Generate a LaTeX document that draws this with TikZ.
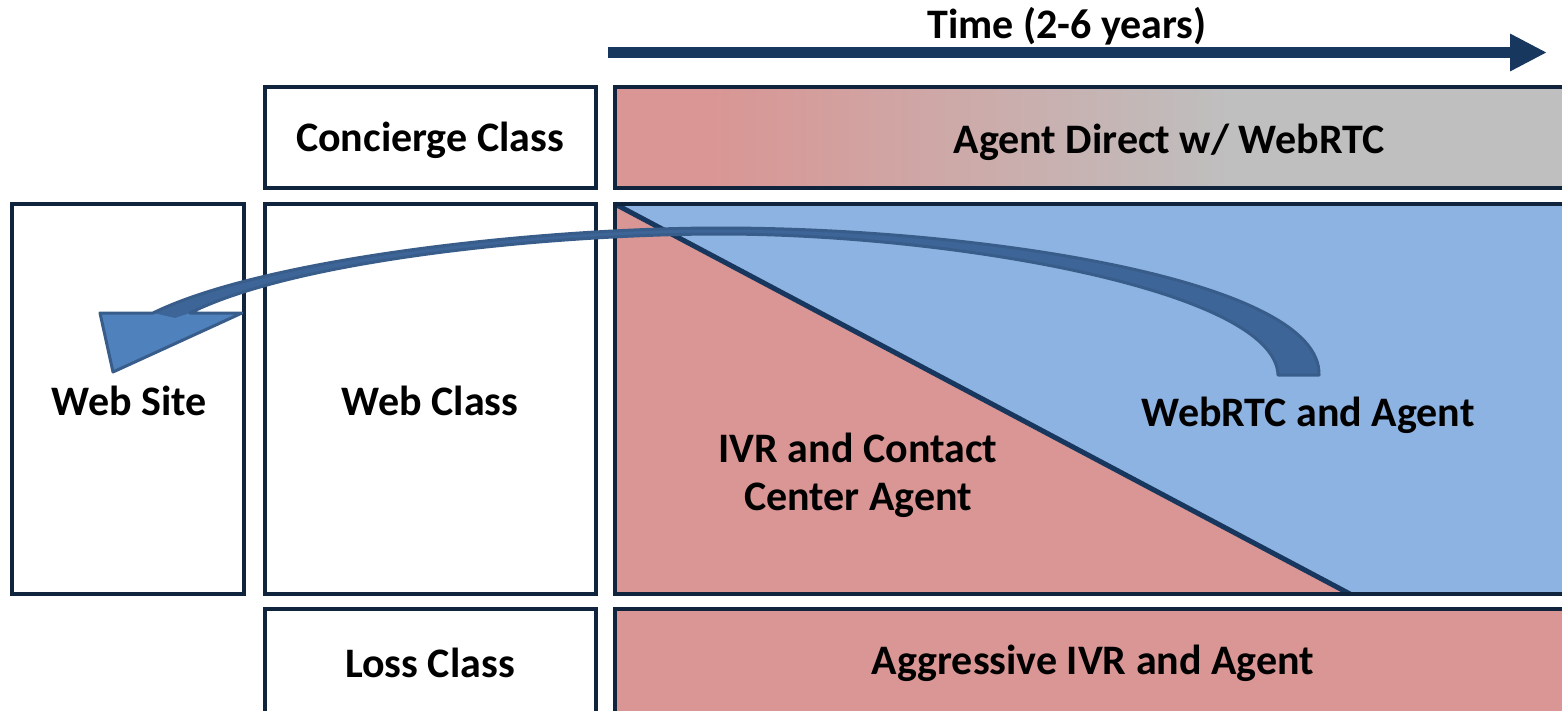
\documentclass[tikz,border=0pt]{standalone}
\usepackage{fontspec}
\setmainfont{Carlito}
\usetikzlibrary{positioning, arrows.meta}
\definecolor{boxnavy}{HTML}{10243E}
\definecolor{axisnavy}{HTML}{17375E}
\definecolor{salmon}{HTML}{D99694}
\definecolor{skyblue}{HTML}{8DB3E2}
\definecolor{greybar}{HTML}{BFBFBF}
\definecolor{curvefill}{HTML}{4F81BD}
\definecolor{curvedark}{HTML}{3D6598}
\definecolor{curveline}{HTML}{385D8A}
\pgfdeclarehorizontalshading{agentshade}{100bp}{color(0bp)=(salmon); color(30bp)=(salmon); color(57bp)=(greybar); color(100bp)=(greybar)}

\begin{document}
\begin{tikzpicture}[x=1pt,y=-1pt,
    classbox/.style={draw=boxnavy, line width=4.5pt, fill=white, inner sep=0pt},
    lbl/.style={font=\bfseries\fontsize{42}{48}\selectfont, align=center}]
    \clip (0,0) rectangle (1562,710);

    % Time axis
    \coordinate (t0) at (608,52.5);
    \coordinate (t1) at (1547,52.5);
    \draw[axisnavy, line width=11pt, -{Triangle[width=35pt,length=37pt]}] (t0) -- (t1);
    \node[lbl] (time) at (1067,26) {Time (2-6 years)};

    % Class boxes
    \node[classbox, minimum width=331, minimum height=101] (concierge) at (430.5,137.5) {};
    \node[classbox, minimum width=232, minimum height=390] (site) at (128,399) {};
    \node[classbox, minimum width=331, minimum height=390] (webclass) at (430.5,399) {};
    \node[classbox, minimum width=331, minimum height=111] (loss) at (430.5,664.5) {};
    \node[lbl] at (430,140) {Concierge Class};
    \node[lbl] at (129,401) {Web Site};
    \node[lbl] at (430,401) {Web Class};
    \node[lbl] at (430,663) {Loss Class};

    % Concierge bar
    \shadedraw[shading=agentshade, draw=boxnavy, line width=4.5pt] (615,87) rectangle (1575,188);
    \node[lbl] (direct) at (1169,142) {Agent Direct w/ WebRTC};

    % Web bar
    \fill[skyblue] (615,204) rectangle (1575,594);
    \fill[salmon] (615,204) -- (1350,594) -- (615,594) -- cycle;
    \draw[axisnavy, line width=5pt] (615,204) -- (1350,594);
    \draw[boxnavy, line width=4.5pt] (615,204) rectangle (1575,594);
    \node[lbl] (ivr) at (858,475) {IVR and Contact\\Center Agent};
    \node[lbl] (webrtc) at (1308,415) {WebRTC and Agent};

    % Loss bar
    \filldraw[fill=salmon, draw=boxnavy, line width=4.5pt] (615,609) rectangle (1575,720);
    \node[lbl] (aggressive) at (1093,663) {Aggressive IVR and Agent};

    % Curved arrow back to the web site
    \path[fill=curvedark] (153,313) -- (100,313) -- (113,372) -- (242,313) -- (190,313)
        .. controls (300,258) and (560,234) .. (720,234)
        .. controls (950,234) and (1275,290) .. (1278,375) -- (1319,375)
        .. controls (1322,280) and (980,228) .. (720,228)
        .. controls (540,228) and (265,258) .. (153,313) -- cycle;
    \fill[curvefill] (100,313) -- (113,372) -- (242,313) -- (190,313) -- (175,318) -- (153,313) -- cycle;
    \draw[curveline, line width=3pt, line join=round]
        (153,313) -- (100,313) -- (113,372) -- (242,313) -- (190,313)
        .. controls (300,258) and (560,234) .. (720,234)
        .. controls (950,234) and (1275,290) .. (1278,375) -- (1319,375)
        .. controls (1322,280) and (980,228) .. (720,228)
        .. controls (540,228) and (265,258) .. (153,313) -- cycle;
\end{tikzpicture}
\end{document}
